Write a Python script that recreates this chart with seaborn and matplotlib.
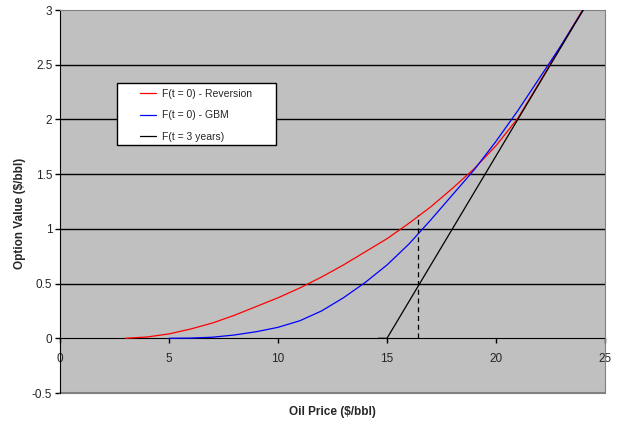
import matplotlib
matplotlib.use("Agg")
import matplotlib.pyplot as plt
from matplotlib.patches import Rectangle
import seaborn as sns
import pandas as pd

# Oil price ($/bbl) and option values
price_rev = [3, 4, 5, 6, 7, 8, 9, 10, 11, 12, 13, 14, 15, 16, 17, 18, 19, 20, 21, 22, 23, 24]
value_rev = [0.0, 0.012, 0.04, 0.085, 0.14, 0.21, 0.29, 0.37, 0.46, 0.56, 0.67, 0.79, 0.91,
             1.05, 1.2, 1.37, 1.55, 1.76, 2.01, 2.34, 2.68, 3.01]

price_gbm = [5, 6, 7, 8, 9, 10, 11, 12, 13, 14, 15, 16, 17, 18, 19, 20, 21, 22, 23, 24]
value_gbm = [0.0, 0.002, 0.01, 0.03, 0.06, 0.1, 0.16, 0.25, 0.37, 0.51, 0.67, 0.86, 1.08,
             1.31, 1.54, 1.8, 2.08, 2.38, 2.68, 3.0]

price_t3 = [14.6, 15, 24]
value_t3 = [0.0, 0.0, 3.0]

labels = ["F(t = 0) - Reversion", "F(t = 0) - GBM", "F(t = 3 years)"]
colors = ["#FF0000", "#0000FF", "#000000"]

# dashed marker at the trigger price
trigger_price = 16.4
trigger_value = 1.13

df = pd.concat([
    pd.DataFrame({"price": price_rev, "value": value_rev, "series": labels[0]}),
    pd.DataFrame({"price": price_gbm, "value": value_gbm, "series": labels[1]}),
    pd.DataFrame({"price": price_t3, "value": value_t3, "series": labels[2]}),
])

sns.set_style("white")
plt.rcParams["font.family"] = ["Liberation Sans", "DejaVu Sans"]

fig = plt.figure(figsize=(6.17, 4.24), dpi=100)
ax = fig.add_axes([60 / 617, 1 - 393 / 424, 545 / 617, 383 / 424])
ax.set_facecolor("#C0C0C0")

# horizontal gridlines
for yv in [0.5, 1.0, 1.5, 2.0, 2.5]:
    ax.axhline(yv, color="black", lw=1.0, zorder=1)

sns.lineplot(data=df, x="price", y="value", hue="series", palette=dict(zip(labels, colors)),
             hue_order=labels, sort=False, estimator=None, lw=0.9, ax=ax, zorder=3)

ax.plot([trigger_price, trigger_price], [0, trigger_value], color="black",
        lw=0.9, ls=(0, (4, 3)), zorder=3)

ax.set_xlim(0, 25)
ax.set_ylim(-0.5, 3)
ax.set_xticks([0, 5, 10, 15, 20, 25])
ax.set_yticks([-0.5, 0, 0.5, 1, 1.5, 2, 2.5, 3])
ax.set_yticklabels(["-0.5", "0", "0.5", "1", "1.5", "2", "2.5", "3"])

# x axis crosses at zero, plot border in gray
ax.spines["bottom"].set_position(("data", 0))
ax.spines["bottom"].set_color("black")
ax.spines["bottom"].set_zorder(2)
ax.spines["left"].set_color("black")
ax.spines["top"].set_color("#808080")
ax.spines["right"].set_color("#808080")
ax.axhline(-0.5, color="#808080", lw=1.5, clip_on=False, zorder=2)

ax.tick_params(axis="both", direction="out", length=3.5, width=1, color="black",
               labelsize=8.5, bottom=True, left=True)
ax.tick_params(axis="x", pad=7)
ax.tick_params(axis="y", pad=2)

ax.set_xlabel("Oil Price ($/bbl)", fontsize=8.5, fontweight="bold")
ax.set_ylabel("Option Value ($/bbl)", fontsize=8.5, fontweight="bold")
ax.xaxis.set_label_coords(0.5, -0.035)
ax.yaxis.set_label_coords(-0.062, 0.47)

# legend box drawn Excel-style: wide side padding
ax.add_patch(Rectangle((0.1046, 0.6475), 0.2917, 0.1619, transform=ax.transAxes,
                       facecolor="white", edgecolor="black", lw=1.0, zorder=4))
leg = ax.legend(loc="upper left", bbox_to_anchor=(0.1468, 0.794), frameon=False,
                fontsize=7.5, handlelength=1.55, handletextpad=0.6, borderpad=0,
                labelspacing=1.1, borderaxespad=0)
leg.set_zorder(5)
leg.set_title(None)

fig.savefig("out.png", dpi=100)
